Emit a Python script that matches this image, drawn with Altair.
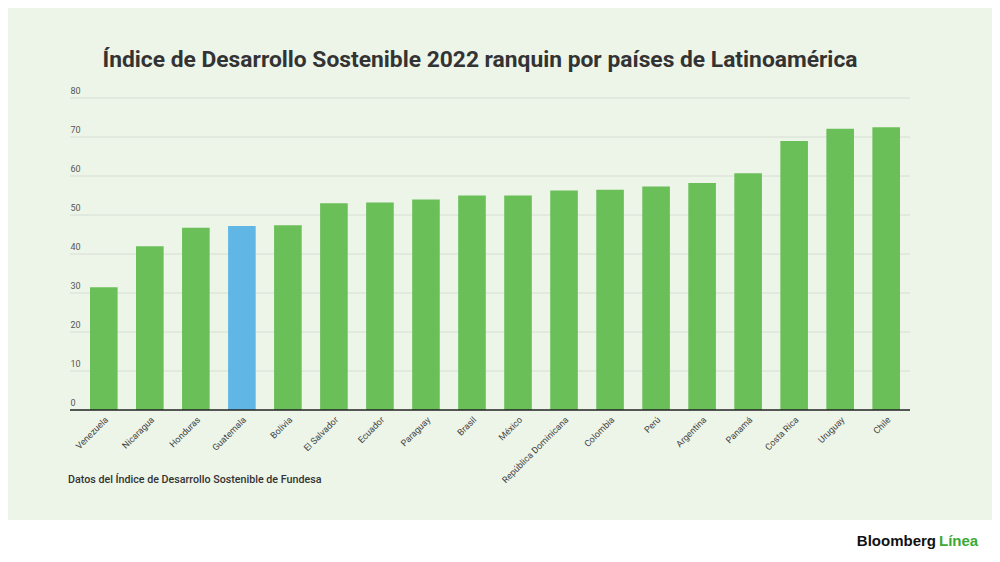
import altair as alt
import pandas as pd

countries = ["Venezuela", "Nicaragua", "Honduras", "Guatemala", "Bolivia", "El Salvador",
             "Ecuador", "Paraguay", "Brasil", "México", "República Dominicana", "Colombia",
             "Perú", "Argentina", "Panamá", "Costa Rica", "Uruguay", "Chile"]
values = [31.5, 42.0, 46.7, 47.2, 47.4, 53.0, 53.2, 54.0, 55.0, 55.0, 56.3, 56.5,
          57.3, 58.2, 60.7, 69.0, 72.1, 72.5]
highlight = "Guatemala"
y_ticks = [10, 20, 30, 40, 50, 60, 70, 80]
y_labels = [0, 10, 20, 30, 40, 50, 60, 70, 80]

title_text = "Índice de Desarrollo Sostenible 2022 ranquin por países de Latinoamérica"
source_text = "Datos del Índice de Desarrollo Sostenible de Fundesa"

GREEN = "#6abf59"
BLUE = "#60b6e5"
BG = "#edf5e9"

df = pd.DataFrame({"pais": countries, "valor": values})
df["resaltado"] = df["pais"] == highlight
grid_df = pd.DataFrame({"valor": y_ticks})
one = pd.DataFrame({"v": [0]})

W, H = 840, 312

yscale = alt.Scale(domain=[0, 80])
yaxis = alt.Axis(title=None, values=y_labels, grid=False,
                 labelAlign="left", labelBaseline="bottom", labelPadding=0,
                 tickSize=0, ticks=False, domain=False, labelOffset=-3,
                 labelFontSize=9, labelColor="#555", labelFont="Roboto")

grid = alt.Chart(grid_df).mark_rule(color="#d6ddd3", strokeWidth=1).encode(
    y=alt.Y("valor:Q", scale=yscale, axis=yaxis),
    x=alt.value(0), x2=alt.value(W),
)

bars = alt.Chart(df).mark_bar().encode(
    x=alt.X("pais:N", sort=countries,
            scale=alt.Scale(paddingInner=0.4, paddingOuter=0, range=[20, 830]),
            axis=alt.Axis(title=None, labelAngle=-45, labelFontSize=9, labelColor="#444",
                          labelFont="Roboto", ticks=False, labelPadding=5,
                          domain=False, grid=False)),
    y=alt.Y("valor:Q", scale=yscale, axis=yaxis),
    color=alt.Color("resaltado:N", scale=alt.Scale(domain=[False, True], range=[GREEN, BLUE]),
                    legend=None),
)

baseline = alt.Chart(one).mark_rule(color="#222", strokeWidth=1.5).encode(
    x=alt.value(0), x2=alt.value(W), y=alt.value(H)
)

footer = alt.Chart(one).mark_rect(color="white").encode(
    x=alt.value(-70), x2=alt.value(W + 100), y=alt.value(422), y2=alt.value(470)
)

source = alt.Chart(one).mark_text(
    text=source_text, align="left", baseline="middle", fontSize=10.7, font="Roboto",
    fontWeight=500, color="#333"
).encode(x=alt.value(-2), y=alt.value(382))

logo1 = alt.Chart(one).mark_text(
    text="Bloomberg", align="right", baseline="middle", fontSize=15,
    font="Liberation Sans", fontWeight="bold", color="#111"
).encode(x=alt.value(866), y=alt.value(443))

logo2 = alt.Chart(one).mark_text(
    text="Línea", align="left", baseline="middle", fontSize=15,
    font="Liberation Sans", fontWeight="bold", color="#3aa935"
).encode(x=alt.value(869), y=alt.value(443))

chart = alt.layer(footer, grid, bars, baseline, source, logo1, logo2).properties(
    width=W, height=H,
    title=alt.TitleParams(title_text, fontSize=22.8, font="Roboto", fontWeight="bold",
                          color="#333", anchor="middle", dx=-10, offset=14),
    background=BG,
    padding={"left": 62, "top": 90, "right": 82, "bottom": 144},
    autosize=alt.AutoSizeParams(type="none"),
).configure_view(stroke=None)

chart.save("out.html", embed_options={"renderer": "svg", "actions": False})
